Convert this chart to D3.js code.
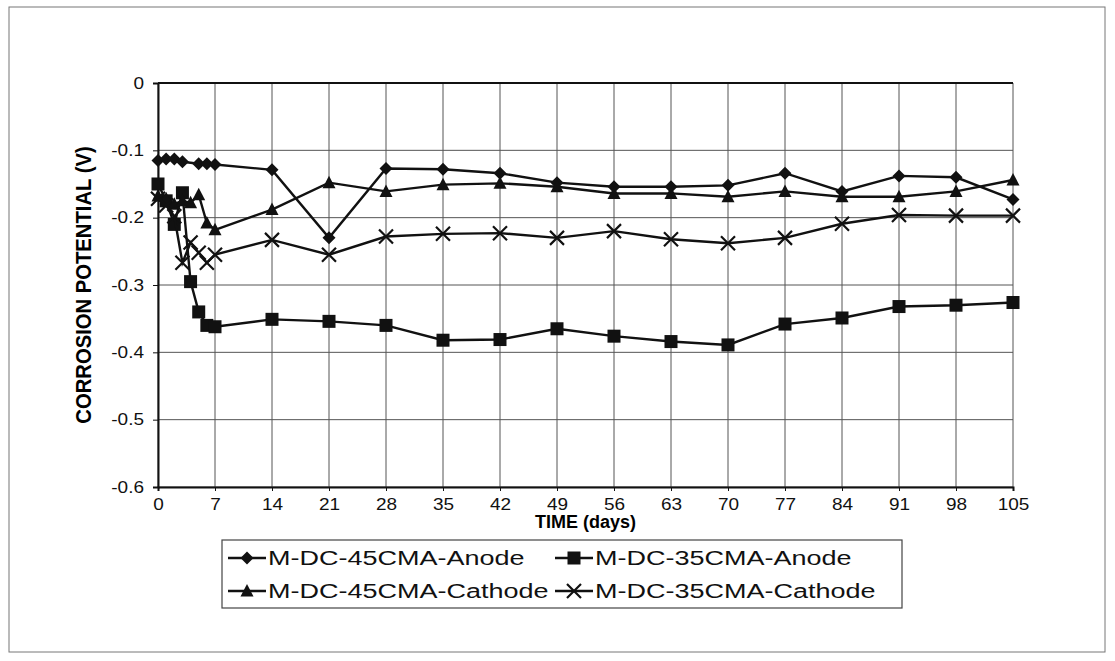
<!DOCTYPE html>
<html>
<head>
<meta charset="utf-8">
<script src="https://cdn.jsdelivr.net/npm/d3@7"></script>
<style>
  body { margin: 0; background: #fff; }
  svg { font-family: "Liberation Sans", Arial, sans-serif; }
</style>
</head>
<body>
<svg id="chart"></svg>
<script>
// data
var days = [0, 1, 2, 3, 4, 5, 6, 7, 14, 21, 28, 35, 42, 49, 56, 63, 70, 77, 84, 91, 98, 105];
var anode45Days = [0, 1, 2, 3, 5, 6, 7, 14, 21, 28, 35, 42, 49, 56, 63, 70, 77, 84, 91, 98, 105];
var anode45 = [-0.115, -0.113, -0.113, -0.117, -0.12, -0.12, -0.121, -0.129, -0.230, -0.127, -0.128, -0.134, -0.148, -0.154, -0.154, -0.152, -0.134, -0.161, -0.138, -0.140, -0.173];
var anode35 = [-0.150, -0.175, -0.210, -0.163, -0.295, -0.340, -0.360, -0.362, -0.351, -0.354, -0.360, -0.382, -0.381, -0.365, -0.376, -0.384, -0.389, -0.358, -0.349, -0.332, -0.330, -0.326];
var cathode45 = [-0.168, -0.172, -0.180, -0.175, -0.178, -0.166, -0.208, -0.218, -0.188, -0.148, -0.161, -0.151, -0.149, -0.154, -0.164, -0.164, -0.169, -0.161, -0.169, -0.169, -0.161, -0.144];
var cathode35 = [-0.172, -0.182, -0.198, -0.267, -0.237, -0.252, -0.267, -0.255, -0.233, -0.255, -0.228, -0.224, -0.223, -0.230, -0.220, -0.232, -0.238, -0.230, -0.209, -0.196, -0.197, -0.197];
var xTicks = [0, 7, 14, 21, 28, 35, 42, 49, 56, 63, 70, 77, 84, 91, 98, 105];
var yTicks = [0, -0.1, -0.2, -0.3, -0.4, -0.5, -0.6];
var yTickLabels = ["0", "-0.1", "-0.2", "-0.3", "-0.4", "-0.5", "-0.6"];
var seriesNames = ["M-DC-45CMA-Anode", "M-DC-35CMA-Anode", "M-DC-45CMA-Cathode", "M-DC-35CMA-Cathode"];

var width = 1115, height = 661;
var margin = {top: 83, left: 158, right: 102, bottom: 174};

var svg = d3.select("#chart").attr("width", width).attr("height", height);

// the scan is a bit wider than tall, so text gets stretched sideways
function stretch(sel, factor) {
    sel.each(function() {
        var len = this.getComputedTextLength();
        d3.select(this).attr("textLength", len * factor).attr("lengthAdjust", "spacingAndGlyphs");
    });
}

// outer frame
svg.append("rect")
    .attr("x", 9).attr("y", 7)
    .attr("width", 1096).attr("height", 645)
    .attr("fill", "none").attr("stroke", "#777").attr("stroke-width", 1);

var x = d3.scaleLinear().domain([0, 105]).range([margin.left, width - margin.right]);
var y = d3.scaleLinear().domain([-0.6, 0]).range([height - margin.bottom, margin.top]);

// grid lines
svg.append("g").selectAll("line.v")
    .data(xTicks).enter().append("line")
    .attr("x1", function(d) { return x(d); }).attr("x2", function(d) { return x(d); })
    .attr("y1", y(0)).attr("y2", y(-0.6))
    .attr("stroke", "#555").attr("stroke-width", 1);
svg.append("g").selectAll("line.h")
    .data(yTicks).enter().append("line")
    .attr("x1", x(0)).attr("x2", x(105))
    .attr("y1", function(d) { return y(d); }).attr("y2", function(d) { return y(d); })
    .attr("stroke", "#555").attr("stroke-width", 1);

// top border
svg.append("line")
    .attr("x1", x(0)).attr("x2", x(105))
    .attr("y1", y(0)).attr("y2", y(0))
    .attr("stroke", "#111").attr("stroke-width", 2);

// axes
var xAxis = svg.append("g")
    .attr("transform", "translate(0," + y(-0.6) + ")")
    .call(d3.axisBottom(x).tickValues(xTicks).tickSize(4).tickPadding(7).tickFormat(d3.format("d")));
var yAxis = svg.append("g")
    .attr("transform", "translate(" + x(0) + ",0)")
    .call(d3.axisLeft(y).tickValues(yTicks).tickSize(5).tickPadding(9)
        .tickFormat(function(d, i) { return yTickLabels[i]; }));
[xAxis, yAxis].forEach(function(a) {
    a.select(".domain").attr("stroke", "#111").attr("stroke-width", 2);
    a.selectAll(".tick line").attr("stroke", "#111");
    a.selectAll(".tick text").attr("font-size", 16.5).attr("fill", "#111")
        .attr("font-family", "Liberation Sans, Arial, sans-serif");
    stretch(a.selectAll(".tick text"), 1.15);
});

var xTitle = svg.append("text")
    .attr("x", (x(0) + x(105)) / 2).attr("y", 528)
    .attr("text-anchor", "middle").attr("font-size", 18).attr("font-weight", "bold")
    .text("TIME (days)");

var yTitle = svg.append("text")
    .attr("transform", "translate(91," + ((y(0) + y(-0.6)) / 2) + ") rotate(-90)")
    .attr("text-anchor", "middle").attr("font-size", 22).attr("font-weight", "bold")
    .text("CORROSION POTENTIAL (V)");
stretch(yTitle, 0.92);

// markers
function drawMarker(g, kind, cx, cy) {
    if (kind === "diamond") {
        g.append("path").attr("d", "M" + cx + "," + (cy - 6.5) + "L" + (cx + 6.5) + "," + cy + "L" + cx + "," + (cy + 6.5) + "L" + (cx - 6.5) + "," + cy + "Z")
            .attr("fill", "#111");
    } else if (kind === "square") {
        g.append("rect").attr("x", cx - 6.5).attr("y", cy - 6.5).attr("width", 13).attr("height", 13).attr("fill", "#111");
    } else if (kind === "triangle") {
        g.append("path").attr("d", "M" + cx + "," + (cy - 7) + "L" + (cx + 6.5) + "," + (cy + 5.5) + "L" + (cx - 6.5) + "," + (cy + 5.5) + "Z")
            .attr("fill", "#111");
    } else {
        g.append("path").attr("d", "M" + (cx - 7) + "," + (cy - 7) + "L" + (cx + 7) + "," + (cy + 7) + "M" + (cx + 7) + "," + (cy - 7) + "L" + (cx - 7) + "," + (cy + 7))
            .attr("stroke", "#111").attr("stroke-width", 2.2).attr("fill", "none");
    }
}

var series = [
    {name: seriesNames[0], xs: anode45Days, ys: anode45, marker: "diamond"},
    {name: seriesNames[1], xs: days, ys: anode35, marker: "square"},
    {name: seriesNames[2], xs: days, ys: cathode45, marker: "triangle"},
    {name: seriesNames[3], xs: days, ys: cathode35, marker: "cross"}
];

var line = d3.line()
    .x(function(d) { return x(d[0]); })
    .y(function(d) { return y(d[1]); });

series.forEach(function(s) {
    var pts = s.xs.map(function(d, i) { return [d, s.ys[i]]; });
    var g = svg.append("g");
    g.append("path").attr("d", line(pts))
        .attr("fill", "none").attr("stroke", "#111").attr("stroke-width", 2.4);
    pts.forEach(function(p) { drawMarker(g, s.marker, x(p[0]), y(p[1])); });
});

// legend
var legend = svg.append("g");
legend.append("rect")
    .attr("x", 222).attr("y", 540).attr("width", 680).attr("height", 68)
    .attr("fill", "#fff").attr("stroke", "#444").attr("stroke-width", 1.2);
var legPos = [[228, 558], [555, 558], [228, 591], [555, 591]];
series.forEach(function(s, i) {
    var lx = legPos[i][0], ly = legPos[i][1];
    var g = legend.append("g");
    g.append("line").attr("x1", lx).attr("x2", lx + 38).attr("y1", ly).attr("y2", ly)
        .attr("stroke", "#111").attr("stroke-width", 2.4);
    drawMarker(g, s.marker, lx + 19, ly);
    var t = g.append("text").attr("x", lx + 40).attr("y", ly + 7)
        .attr("font-size", 20).attr("fill", "#111").text(s.name);
    stretch(t, 1.35);
});
</script>
</body>
</html>
